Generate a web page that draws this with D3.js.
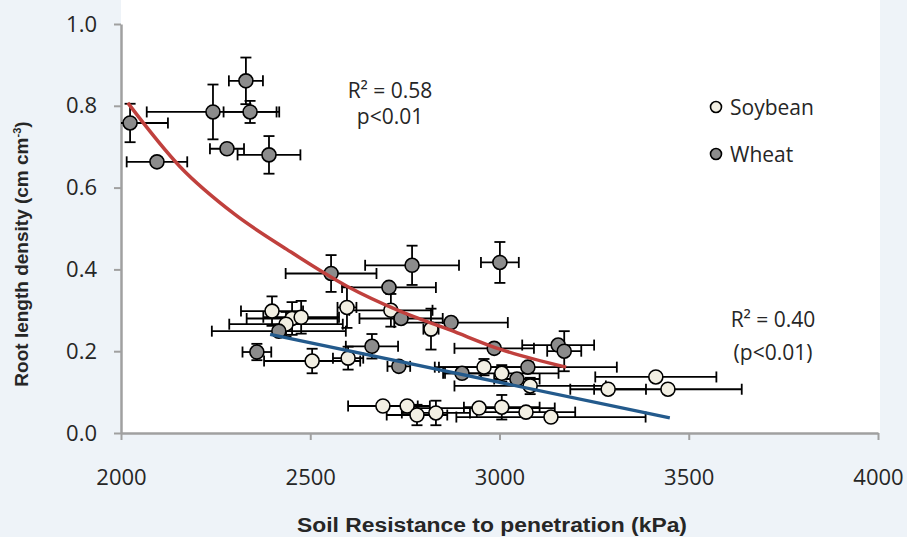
<!DOCTYPE html>
<html>
<head>
<meta charset="utf-8">
<script src="https://cdn.jsdelivr.net/npm/d3@7"></script>
<style>
  body { margin: 0; background: #eef3f8; }
  #svgdiv { width: 907px; height: 537px; }
  text { fill: #262626; }
</style>
</head>
<body>
<div id="svgdiv"></div>
<script>
// wheat (gray markers): soil resistance, root length density and error bars
var wheatX    = [2024, 2095, 2243, 2330, 2341, 2280, 2391, 2555, 2769, 3001, 2708, 2740, 2872, 2417, 2359, 2663, 2734, 2986, 3155, 3171, 2901, 3075, 3046];
var wheatY    = [0.758, 0.663, 0.785, 0.861, 0.785, 0.695, 0.680, 0.390, 0.410, 0.417, 0.356, 0.280, 0.270, 0.249, 0.198, 0.212, 0.163, 0.207, 0.215, 0.200, 0.146, 0.161, 0.132];
var wheatXErr = [100, 80, 175, 45, 70, 45, 83, 120, 124, 50, 124, 110, 150, 177, 38, 69, 30, 105, 95, 45, 50, 235, 60];
var wheatYErr = [0.047, 0.01, 0.067, 0.057, 0.027, 0.01, 0.046, 0.045, 0.048, 0.05, 0.005, 0.01, 0.01, 0.01, 0.02, 0.03, 0.01, 0.01, 0.01, 0.049, 0.01, 0.01, 0.01];

// soybean (cream markers)
var soyX    = [2399, 2452, 2476, 2436, 2597, 2713, 2819, 2505, 2600, 2959, 3006, 3081, 3287, 3413, 3445, 2692, 2756, 2782, 2832, 2946, 3006, 3070, 3136];
var soyY    = [0.298, 0.280, 0.283, 0.266, 0.307, 0.300, 0.254, 0.176, 0.183, 0.161, 0.146, 0.115, 0.107, 0.137, 0.107, 0.066, 0.066, 0.044, 0.049, 0.061, 0.063, 0.051, 0.039];
var soyXErr = [82, 120, 100, 150, 25, 110, 20, 127, 40, 130, 150, 200, 100, 160, 195, 92, 60, 80, 90, 200, 100, 130, 250];
var soyYErr = [0.036, 0.04, 0.04, 0.03, 0.05, 0.04, 0.05, 0.03, 0.028, 0.02, 0.02, 0.02, 0.01, 0.01, 0.01, 0.01, 0.01, 0.025, 0.03, 0.01, 0.03, 0.01, 0.01];

// trend lines
var wheatFitX = [2018, 2156, 2300, 2438, 2597, 2737, 2869, 3001, 3176];
var wheatFitY = [0.807, 0.651, 0.535, 0.449, 0.359, 0.298, 0.252, 0.205, 0.161];
var soyFitX = [2394, 3450];
var soyFitY = [0.241, 0.037];

var xTicks = [2000, 2500, 3000, 3500, 4000];
var yTicks = [0, 0.2, 0.4, 0.6, 0.8, 1.0];

var width = 907, height = 537;

let svg = d3.select("#svgdiv").append("svg")
    .attr("width", width)
    .attr("height", height);

let x = d3.scaleLinear().domain([2000, 4000]).range([121, 878]);
let y = d3.scaleLinear().domain([0, 1]).range([433, 24]);

// white plot area
svg.append("rect")
   .attr("x", 121).attr("y", 0)
   .attr("width", 759).attr("height", 433)
   .style("fill", "white");

svg.append("clipPath").attr("id", "plotclip")
   .append("rect")
   .attr("x", 121).attr("y", 0)
   .attr("width", 786).attr("height", 433);

// axes
let xAxis = svg.append("g")
    .attr("transform", "translate(0,433)")
    .call(d3.axisBottom(x).tickValues(xTicks).tickSize(7).tickSizeOuter(0).tickPadding(29).tickFormat(d3.format("d")));

let yAxis = svg.append("g")
    .attr("transform", "translate(121,0)")
    .call(d3.axisLeft(y).tickValues(yTicks).tickSize(7).tickSizeOuter(0).tickPadding(17).tickFormat(d3.format(".1f")));

[xAxis, yAxis].forEach(function(a){
    a.select(".domain").style("stroke", "#a0a0a0").style("stroke-width", 2.5);
    a.selectAll(".tick line").style("stroke", "#a0a0a0").style("stroke-width", 2);
    a.selectAll(".tick text")
     .style("font-family", "Open Sans")
     .style("font-size", "22px")
     .style("fill", "#262626");
});

// build rows for each series
function rows(xs, ys, exs, eys){
    let out = [];
    for(let i = 0; i < xs.length; ++i)
    {
        out.push({x: xs[i], y: ys[i], ex: exs[i], ey: eys[i]});
    }
    return out;
}

let series = [
    {name: "Soybean", fill: "#f2efe3", data: rows(soyX, soyY, soyXErr, soyYErr)},
    {name: "Wheat", fill: "#8c8c8c", data: rows(wheatX, wheatY, wheatXErr, wheatYErr)}
];

let plot = svg.append("g").attr("clip-path", "url(#plotclip)");
let cap = 5.5;

// error bars first, markers on top
series.forEach(function(s){
    let g = plot.append("g").attr("class", "err");
    s.data.forEach(function(d){
        let cx = x(d.x), cy = y(d.y);
        let x1 = x(d.x - d.ex), x2 = x(d.x + d.ex);
        let y1 = y(d.y + d.ey), y2 = y(d.y - d.ey);
        let segs = [
            [x1, cy, x2, cy], [x1, cy - cap, x1, cy + cap], [x2, cy - cap, x2, cy + cap],
            [cx, y1, cx, y2], [cx - cap, y1, cx + cap, y1], [cx - cap, y2, cx + cap, y2]
        ];
        segs.forEach(function(l){
            g.append("line")
             .attr("x1", l[0]).attr("y1", l[1])
             .attr("x2", l[2]).attr("y2", l[3])
             .style("stroke", "black")
             .style("stroke-width", 1.8);
        });
    });
});

series.forEach(function(s){
    plot.append("g").selectAll("circle")
        .data(s.data)
        .enter().append("circle")
        .attr("cx", d => x(d.x))
        .attr("cy", d => y(d.y))
        .attr("r", 7)
        .style("fill", s.fill)
        .style("stroke", "black")
        .style("stroke-width", 1.6);
});

// trend lines
let line = d3.line().x(d => x(d[0])).y(d => y(d[1])).curve(d3.curveMonotoneX);

plot.append("path")
    .datum(wheatFitX.map((v, i) => [v, wheatFitY[i]]))
    .attr("d", line)
    .style("fill", "none")
    .style("stroke", "#c0403d")
    .style("stroke-width", 3.5);

plot.append("path")
    .datum(soyFitX.map((v, i) => [v, soyFitY[i]]))
    .attr("d", line)
    .style("fill", "none")
    .style("stroke", "#235a8c")
    .style("stroke-width", 3.2);

// annotations
function label(txt, px, py){
    return svg.append("text")
       .attr("x", px).attr("y", py)
       .attr("text-anchor", "middle")
       .style("font-family", "Open Sans")
       .style("font-size", "21px")
       .text(txt);
}
label("R\u00b2 = 0.58", 390, 98);
label("p<0.01", 390, 124);
label("R\u00b2 = 0.40", 773, 327);
label("(p<0.01)", 773, 360);

// legend
series.forEach(function(s, i){
    let ly = [107, 154][i];
    svg.append("circle")
       .attr("cx", 716).attr("cy", ly).attr("r", 5.5)
       .style("fill", s.fill)
       .style("stroke", "black")
       .style("stroke-width", 1.6);
    svg.append("text")
       .attr("x", 730).attr("y", ly + 8)
       .style("font-family", "Open Sans")
       .style("font-size", "21px")
       .text(s.name);
});

// axis titles
svg.append("text")
   .attr("x", 492).attr("y", 532)
   .attr("text-anchor", "middle")
   .attr("textLength", 390)
   .attr("lengthAdjust", "spacingAndGlyphs")
   .style("font-family", "Liberation Sans")
   .style("font-weight", "bold")
   .style("font-size", "20px")
   .text("Soil Resistance to penetration (kPa)");

let yt = svg.append("text")
   .attr("transform", "translate(28,254) rotate(-90)")
   .attr("text-anchor", "middle")
   .style("font-family", "Liberation Sans")
   .style("font-weight", "bold")
   .style("font-size", "19px");
yt.append("tspan").text("Root length density (cm cm");
yt.append("tspan").attr("dy", -7).style("font-size", "11px").text("-3");
yt.append("tspan").attr("dy", 7).text(")");
</script>
</body>
</html>
